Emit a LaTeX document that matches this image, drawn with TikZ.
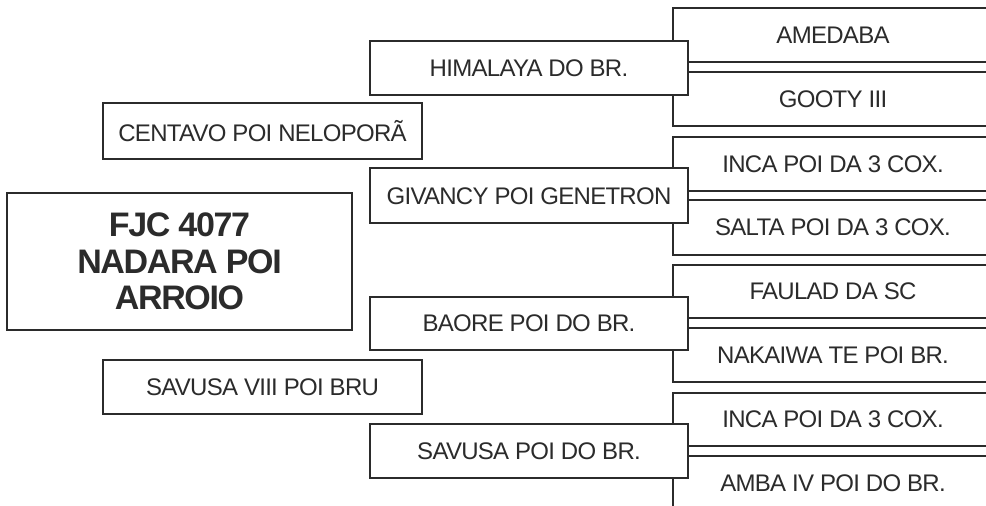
\documentclass[tikz,border=0pt]{standalone}
\usepackage{fontspec}
\setmainfont{Liberation Sans}
\newfontfamily\tightfont{Liberation Sans}[LetterSpace=-3]
\newfontfamily\tighterfont{Liberation Sans}[LetterSpace=-4]
\definecolor{ink}{HTML}{2B2B2B}
\begin{document}
\begin{tikzpicture}[x=1bp,y=-1bp,
  box/.style={draw=ink,line width=2bp,fill=white,inner sep=0pt,outer sep=0pt,text=ink,
    font=\tightfont\fontsize{24bp}{28bp}\selectfont,anchor=center},
  rbox/.style={box,minimum width=320bp},
  mbox/.style={box,minimum width=318bp},
  lbox/.style={box,minimum width=319bp,minimum height=56bp},
  big/.style={box,align=center,font=\tighterfont\fontsize{34bp}{36.7bp}\selectfont\bfseries}]
\useasboundingbox (0,0) rectangle (986,506);
\clip (0,0) rectangle (986,506);
% right column
\node[rbox,minimum height=54bp] (r1) at (833,35) {AMEDABA};
\node[rbox,minimum height=54bp] (r2) at (833,99) {GOOTY III};
\node[rbox,minimum height=54bp] (r3) at (833,164) {INCA POI DA 3 COX.};
\node[rbox,minimum height=55bp] (r4) at (833,227.5) {SALTA POI DA 3 COX.};
\node[rbox,minimum height=53bp] (r5) at (833,291.5) {FAULAD DA SC};
\node[rbox,minimum height=54bp] (r6) at (833,355) {NAKAIWA TE POI BR.};
\node[rbox,minimum height=53bp] (r7) at (833,419.5) {INCA POI DA 3 COX.};
\node[rbox,minimum height=54bp] (r8) at (833,483) {AMBA IV POI DO BR.};
% middle column
\node[mbox,minimum height=54bp] (m1) at (529,68) {HIMALAYA DO BR.};
\node[mbox,minimum height=55bp] (m2) at (529,196) {GIVANCY POI GENETRON};
\node[mbox,minimum height=53bp] (m3) at (529,323.5) {BAORE POI DO BR.};
\node[mbox,minimum height=54bp] (m4) at (529,451) {SAVUSA POI DO BR.};
% left column
\node[lbox] (c1) at (262.5,131) {CENTAVO POI NELOPORÃ};
\node[lbox,minimum height=54bp] (c2) at (262.5,387) {SAVUSA VIII POI BRU};
\node[big,minimum width=345bp,minimum height=137bp] (main) at (179.5,261.5) {FJC 4077\\NADARA POI\\ARROIO};
\end{tikzpicture}
\end{document}
